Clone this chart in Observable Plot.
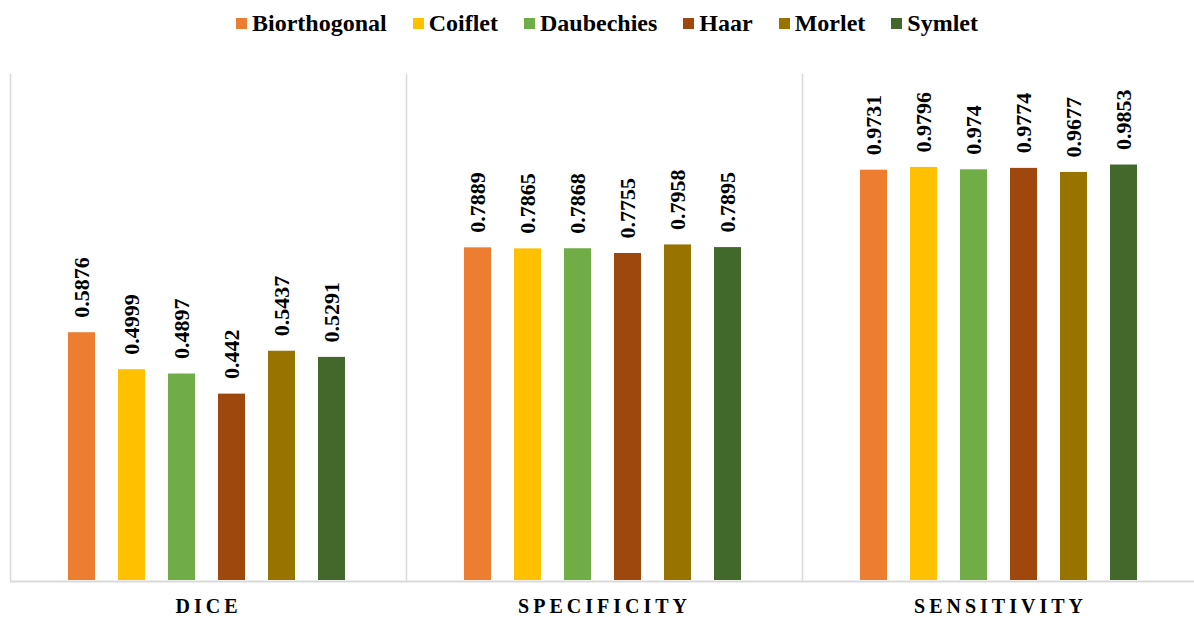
<!DOCTYPE html>
<html><head><meta charset="utf-8">
<script src="https://cdn.jsdelivr.net/npm/d3@7"></script>
<script src="https://cdn.jsdelivr.net/npm/@observablehq/plot@0.6"></script>
<style>
html,body{margin:0;background:#fff;overflow:hidden;font-family:"Liberation Serif","Times New Roman",serif;}
#legend{width:1194px;box-sizing:border-box;height:47px;display:flex;justify-content:center;align-items:center;padding-left:20px;font-weight:bold;font-size:24px;color:#000;}
.item{display:flex;align-items:center;margin:0 13px;}
.sw{width:11px;height:11px;margin-right:5px;}
.fxlab text{letter-spacing:4px}
#chart svg{max-width:none !important;display:block;}
</style></head><body>
<div id="legend"></div><div id="chart"></div>
<script>
const metrics = ["DICE", "SPECIFICITY", "SENSITIVITY"];
const wavelets = ["Biorthogonal", "Coiflet", "Daubechies", "Haar", "Morlet", "Symlet"];
const colors = ["#ED7D31", "#FFC000", "#70AD47", "#9E480E", "#997300", "#43682B"];
const dice = [0.5876, 0.4999, 0.4897, 0.442, 0.5437, 0.5291];
const specificity = [0.7889, 0.7865, 0.7868, 0.7755, 0.7958, 0.7895];
const sensitivity = [0.9731, 0.9796, 0.974, 0.9774, 0.9677, 0.9853];

const series = [dice, specificity, sensitivity];
const data = metrics.flatMap((m, i) => wavelets.map((w, j) => ({metric: m, wavelet: w, value: series[i][j]})));

const legend = document.getElementById("legend");
wavelets.forEach((w, j) => {
  const it = document.createElement("div"); it.className = "item";
  const sw = document.createElement("div"); sw.className = "sw"; sw.style.background = colors[j];
  const t = document.createElement("span"); t.textContent = w;
  it.appendChild(sw); it.appendChild(t); legend.appendChild(it);
});

const plot = Plot.plot({
  width: 1198, height: 570, marginTop: 27, marginBottom: 37, marginLeft: 9, marginRight: 0,
  style: {fontFamily: "'Liberation Serif', 'Times New Roman', serif", background: "white", color: "black"},
  fx: {domain: metrics, padding: 0},
  x: {domain: wavelets, paddingInner: 0.466, paddingOuter: 1.136, align: 0.483, axis: null},
  y: {domain: [0, 1.2], axis: null},
  color: {domain: wavelets, range: colors},
  marks: [
    Plot.frame({anchor: "left", stroke: "#d9d9d9", strokeWidth: 1.5}),
    Plot.barY(data, {fx: "metric", x: "wavelet", y: "value", fill: "wavelet"}),
    Plot.ruleY([0], {stroke: "#d9d9d9", strokeWidth: 2, dy: 1}),
    Plot.text(data, {fx: "metric", x: "wavelet", y: "value", text: d => String(d.value), rotate: -90, textAnchor: "start", lineAnchor: "middle", dy: -15, fontSize: 22, fontWeight: "bold", fill: "black"}),
    Plot.axisFx({anchor: "bottom", tickSize: 0, tickPadding: 18, fontSize: 20, fontWeight: "bold", label: null, className: "fxlab", fill: "black"})
  ]
});
plot.style.maxWidth = "none";
document.getElementById("chart").appendChild(plot);
</script>
</body></html>
